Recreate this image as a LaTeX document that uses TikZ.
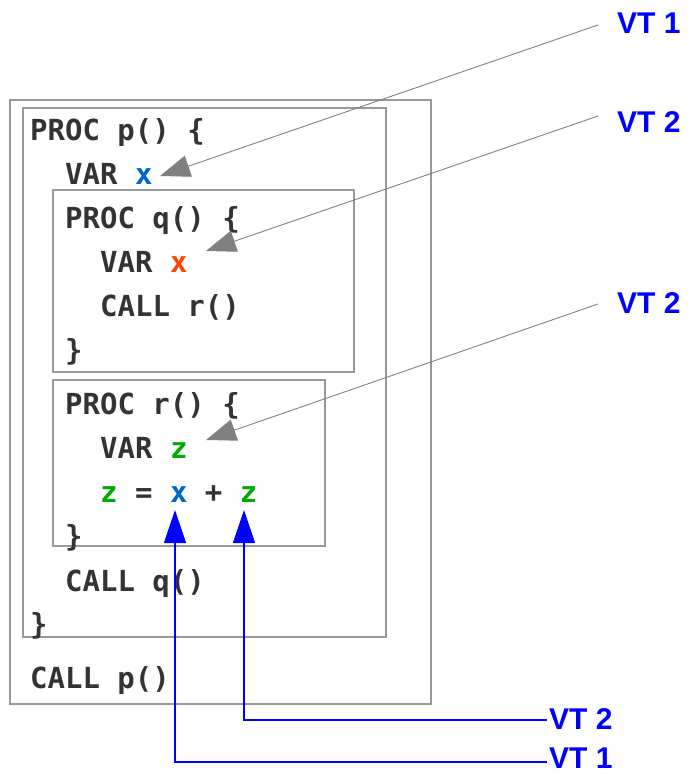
\documentclass[tikz,border=0pt]{standalone}
\usepackage{fontspec}
\setmainfont{Liberation Sans}
\newfontfamily\codefont{DejaVu Sans Mono}
\usetikzlibrary{arrows.meta}
\definecolor{codegray}{HTML}{333333}
\definecolor{boxgray}{HTML}{999999}
\definecolor{arrgray}{HTML}{808080}
\definecolor{xblue}{HTML}{0066CC}
\definecolor{xred}{HTML}{FF4400}
\definecolor{zgreen}{HTML}{00AA00}
\definecolor{vtblue}{HTML}{0000FF}
\begin{document}
\begin{tikzpicture}[x=1pt,y=-1pt,
  code/.style={anchor=base west,inner sep=0pt,text=codegray,font=\codefont\bfseries\fontsize{29}{34}\selectfont},
  frame/.style={draw=boxgray,line width=1.2pt},
  vt/.style={anchor=base west,inner sep=0pt,text=vtblue,font=\bfseries\fontsize{30}{34}\selectfont},
  grayarrow/.style={draw=arrgray,line width=0.9pt,-{Triangle[length=30pt,width=22pt]},arrgray},
  bluearrow/.style={draw=vtblue,line width=1.2pt,-{Triangle[length=33pt,width=22pt]}}]
\useasboundingbox (0,0) rectangle (689,774);
% frames
\draw[frame] (10,100) rectangle (431,704);
\draw[frame] (23,108) rectangle (386,637);
\draw[frame] (53,190) rectangle (354,372);
\draw[frame] (53,380) rectangle (325,546);
% code lines
\node[code] (l1) at (30,140) {PROC p() \{};
\node[code] (l2) at (65,184) {VAR \textcolor{xblue}{x}};
\node[code] (l3) at (65,228) {PROC q() \{};
\node[code] (l4) at (100,272) {VAR \textcolor{xred}{x}};
\node[code] (l5) at (100,316) {CALL r()};
\node[code] (l6) at (65,360) {\}};
\node[code] (l7) at (65,414) {PROC r() \{};
\node[code] (l8) at (100,458) {VAR \textcolor{zgreen}{z}};
\node[code] (l9) at (100,502) {\textcolor{zgreen}{z} = \textcolor{xblue}{x} + \textcolor{zgreen}{z}};
\node[code] (l10) at (65,546) {\}};
\node[code] (l11) at (65,591) {CALL q()};
\node[code] (l12) at (30,634) {\}};
\node[code] (l13) at (30,688) {CALL p()};
% labels
\node[vt] (vta) at (617,33) {VT 1};
\node[vt] (vtb) at (617,132) {VT 2};
\node[vt] (vtc) at (617,313) {VT 2};
\node[vt] (vtd) at (549,729) {VT 2};
\node[vt] (vte) at (549,768) {VT 1};
% connector coordinates
\coordinate (sa) at (598,25);
\coordinate (sb) at (598,116);
\coordinate (sc) at (598,304);
\coordinate (ta) at (160,176);
\coordinate (tb) at (206,251);
\coordinate (tc) at (206,440);
\coordinate (sd) at (547,720);
\coordinate (se) at (547,762);
\coordinate (td) at (244,510);
\coordinate (te) at (175,510);
% gray arrows
\draw[grayarrow] (sa) -- (ta);
\draw[grayarrow] (sb) -- (tb);
\draw[grayarrow] (sc) -- (tc);
% blue arrows
\draw[bluearrow] (sd) -| (td);
\draw[bluearrow] (se) -| (te);
\end{tikzpicture}
\end{document}
